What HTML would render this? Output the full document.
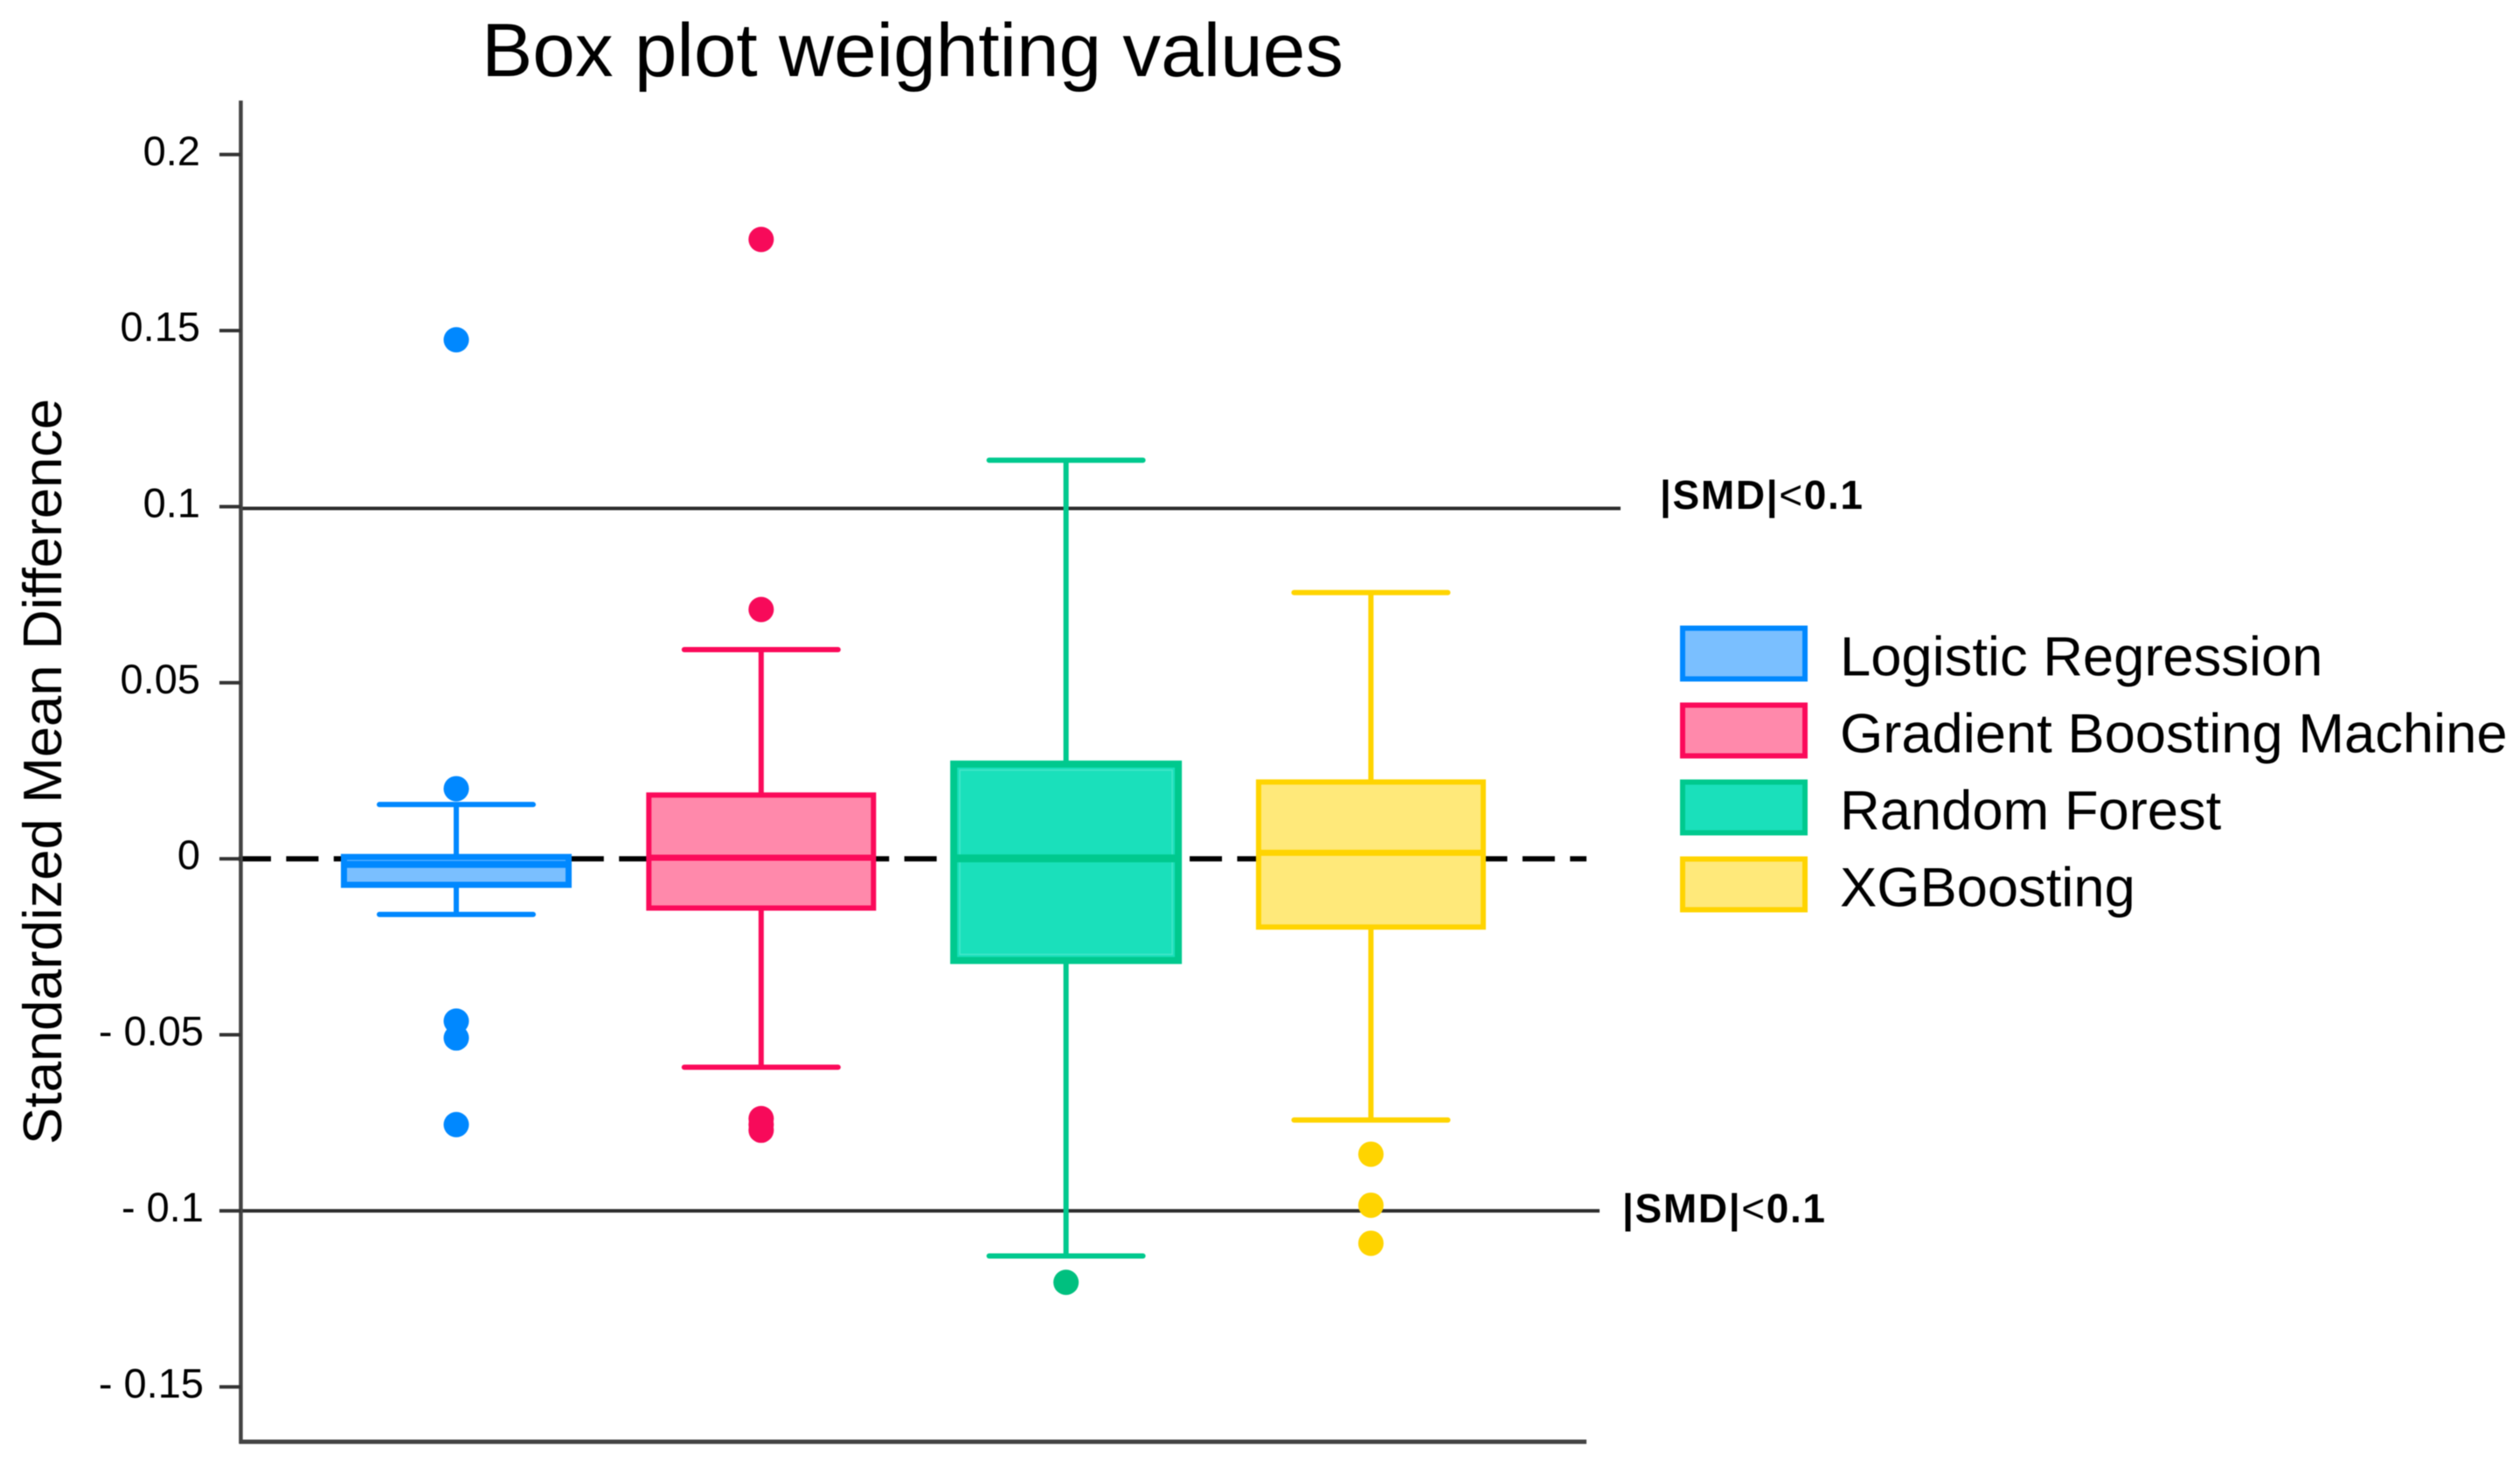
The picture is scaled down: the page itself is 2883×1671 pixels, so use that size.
<!DOCTYPE html>
<html lang="en">
<head>
<meta charset="utf-8">
<title>Box plot weighting values</title>
<style>
html,body{margin:0;padding:0;background:#fff;width:2883px;height:1671px;overflow:hidden}
svg{display:block;filter:blur(0.6px)}
text{font-family:"Liberation Sans",sans-serif;fill:#000}
</style>
</head>
<body>
<svg id="chart" xmlns="http://www.w3.org/2000/svg" width="2883" height="1671" viewBox="0 0 2883 1671">
  <rect x="0" y="0" width="2883" height="1671" fill="#ffffff"/>
  <text x="551" y="87" font-size="86" textLength="986" lengthAdjust="spacingAndGlyphs">Box plot weighting values</text>
  <text transform="translate(70,1309) rotate(-90)" font-size="62" textLength="853" lengthAdjust="spacingAndGlyphs">Standardized Mean Difference</text>
  <g id="marks"></g>
  <g id="legend"></g>
  <text x="1899" y="582" font-size="46" font-weight="700" textLength="232">|SMD|<tspan font-weight="400">&lt;</tspan>0.1</text>
  <text x="1856" y="1398" font-size="46" font-weight="700" textLength="232">|SMD|<tspan font-weight="400">&lt;</tspan>0.1</text>
</svg>
<script>
const categories = ['Logistic Regression', 'Gradient Boosting Machine', 'Random Forest', 'XGBoosting'];
const whiskerLow = [-0.0158, -0.0592, -0.1128, -0.0742];
const q1Values = [-0.0074, -0.0140, -0.0289, -0.0194];
const medianValues = [-0.0016, 0.0003, 0.0001, 0.0017];
const q3Values = [0.0005, 0.0181, 0.0269, 0.0218];
const whiskerHigh = [0.0154, 0.0594, 0.1132, 0.0756];
const outliers = [
  [0.1474, 0.0199, -0.0461, -0.0509, -0.0755],
  [0.1759, 0.0708, -0.0738, -0.0755, -0.0771],
  [-0.1203],
  [-0.0839, -0.0984, -0.1092]
];
const tickValues = [0.2, 0.15, 0.1, 0.05, 0, -0.05, -0.1, -0.15];
const tickLabels = ['0.2', '0.15', '0.1', '0.05', '0', '- 0.05', '- 0.1', '- 0.15'];
const thresholdValues = [0.0995, -0.1];
const referenceValue = 0;
const lineColors = ['#0088ff', '#fb0a5a', '#00c98e', '#ffd400'];
const fillColors = ['#7abfff', '#ff89ab', '#1ae0bb', '#ffe97a'];
const dotColors = ['#0088ff', '#f70a5a', '#00c07f', '#ffd400'];
const innerEdgeColors = ['', '', '#45e6c9', ''];
const boxStrokes = [7, 6, 8, 6];

const NS = 'http://www.w3.org/2000/svg';
const marks = document.getElementById('marks');
const legend = document.getElementById('legend');
function yScale(v) { return 982.2 - 4027 * v; }
function xScale(i) { return 522 + 348.8 * i; }
const BOX_W = 257, CAP_W = 176;
const AXIS_X = 275.5, AXIS_TOP = 115, AXIS_BOTTOM = 1649, AXIS_RIGHT = 1815;

function mk(tag, attrs, parent) {
  const el = document.createElementNS(NS, tag);
  for (const k in attrs) el.setAttribute(k, attrs[k]);
  parent.appendChild(el);
  return el;
}

// reference lines
thresholdValues.forEach(function (v, i) {
  const l = mk('line', { x1: AXIS_X, x2: i === 0 ? 1854 : 1830, y1: yScale(v), y2: yScale(v), stroke: '#2c2c2c', 'stroke-width': 4 }, marks);
  
  
});
const dash = mk('line', { x1: 273, x2: 1815, y1: yScale(referenceValue), y2: yScale(referenceValue), stroke: '#000', 'stroke-width': 6, 'stroke-dasharray': '37 17.4' }, marks);



// axes
const yAxis = mk('line', { x1: AXIS_X, x2: AXIS_X, y1: AXIS_TOP, y2: AXIS_BOTTOM + 2, stroke: '#444', 'stroke-width': 4.5 }, marks);


const xAxis = mk('line', { x1: AXIS_X - 2, x2: AXIS_RIGHT, y1: AXIS_BOTTOM, y2: AXIS_BOTTOM, stroke: '#444', 'stroke-width': 5 }, marks);



tickValues.forEach(function (v, i) {
  const t = mk('line', { x1: 251, x2: AXIS_X, y1: yScale(v), y2: yScale(v), stroke: '#333', 'stroke-width': 4 }, marks);
  
  
  const lab = mk('text', { x: v < 0 ? 233 : 229, y: yScale(v) + 12, 'text-anchor': 'end', 'font-size': 47 }, marks);
  lab.textContent = tickLabels[i];
  
  
});

// boxes
categories.forEach(function (name, i) {
  const cx = xScale(i);
  const col = lineColors[i];
  const g = mk('g', {}, marks);
  
  

  const stem = mk('line', { x1: cx, x2: cx, y1: yScale(whiskerHigh[i]), y2: yScale(whiskerLow[i]), stroke: col, 'stroke-width': 6 }, g);
  
  

  [whiskerHigh[i], whiskerLow[i]].forEach(function (w) {
    const cap = mk('line', { x1: cx - CAP_W / 2, x2: cx + CAP_W / 2, y1: yScale(w), y2: yScale(w), stroke: col, 'stroke-width': 6, 'stroke-linecap': 'round' }, g);
    
    
  });

  const top = yScale(q3Values[i]);
  const bottom = yScale(q1Values[i]);
  const box = mk('rect', { x: cx - BOX_W / 2, y: top, width: BOX_W, height: bottom - top, fill: fillColors[i], stroke: col, 'stroke-width': boxStrokes[i] }, g);
  
  

  if (innerEdgeColors[i]) {
    const inner = mk('rect', { x: cx - BOX_W / 2 + 7, y: top + 7, width: BOX_W - 14, height: bottom - top - 14, fill: 'none', stroke: innerEdgeColors[i], 'stroke-width': 1.5 }, g);
    
    
  }

  const med = mk('line', { x1: cx - BOX_W / 2, x2: cx + BOX_W / 2, y1: yScale(medianValues[i]), y2: yScale(medianValues[i]), stroke: col, 'stroke-width': boxStrokes[i] + 1 }, g);
  
  

  outliers[i].forEach(function (v) {
    const dot = mk('circle', { cx: cx, cy: yScale(v), r: 14.5, fill: dotColors[i] }, g);
    
    
  });
});

// legend
categories.forEach(function (name, i) {
  const rowY = 718.5 + 88 * i;
  const g = mk('g', {}, legend);
  
  
  const sw = mk('rect', { x: 1925, y: rowY, width: 140, height: 58, fill: fillColors[i], stroke: lineColors[i], 'stroke-width': 6 }, g);
  
  
  const t = mk('text', { x: 2105, y: rowY + 54, 'font-size': 63.3 }, g);
  t.textContent = name;
  
  
});
</script>
</body>
</html>
